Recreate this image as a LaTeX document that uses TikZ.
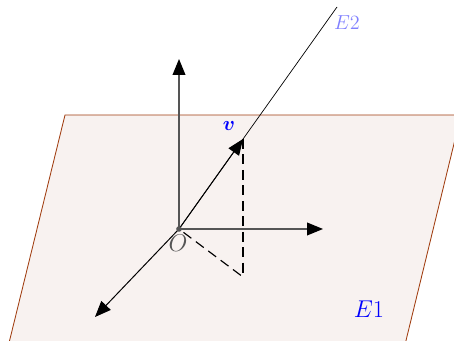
\documentclass[tikz,border=0pt]{standalone}
\usepackage{amsmath,amssymb,bm}
\usepackage{tikz}
\usetikzlibrary{arrows.meta,calc,positioning}
\definecolor{planeedge}{RGB}{160,60,15}
\definecolor{planefill}{RGB}{248,242,240}
\definecolor{axisgray}{RGB}{85,85,85}

\begin{document}
\begin{tikzpicture}[>={Triangle[length=4mm,width=3.2mm,color=black]},
  axis/.style={->,axisgray,line width=0.9pt},
  lbl/.style={blue,font=\LARGE}]
  \useasboundingbox (-4.475,-2.8) rectangle (6.875,5.725);
  % plane E1
  \draw[planeedge,fill=planefill,line width=0.6pt] (-4.25,-2.85) -- (-2.85,2.85) -- (7.05,2.85) -- (5.66,-2.85) -- cycle;
  \coordinate (O) at (0,0);
  \coordinate (z) at (0,4.25);
  \coordinate (x) at (3.6,0);
  \coordinate (y) at (-2.1,-2.2);
  \coordinate (v) at (1.6,2.25);
  \coordinate (e) at (3.95,5.55);
  \coordinate (f) at (1.6,-1.2);
  % line E2
  \draw[line width=0.5pt] (O) -- (e);
  % axes
  \draw[axis] (O) -- (z);
  \draw[axis] (O) -- (x);
  \draw[->,line width=0.7pt] (O) -- (y);
  \draw[->,line width=0.7pt] (O) -- (v);
  \draw[line width=0.8pt,dash pattern=on 7pt off 4pt] (v) -- (f);
  \draw[line width=0.8pt,dash pattern=on 7pt off 4pt,dash phase=7pt] (O) -- (f);
  \fill[axisgray] (O) circle (2pt);
  \node[axisgray,font=\LARGE] (Olbl) at (-0.025,-0.36) {$O$};
  \node[blue,font=\Large] (vlbl) at (1.25,2.575) {$\bm{v}$};
  \node[blue!50,font=\Large] (E2lbl) at (4.2,5.15) {$E2$};
  \node[lbl] (E1lbl) at (4.75,-2.0) {$E1$};
\end{tikzpicture}
\end{document}
